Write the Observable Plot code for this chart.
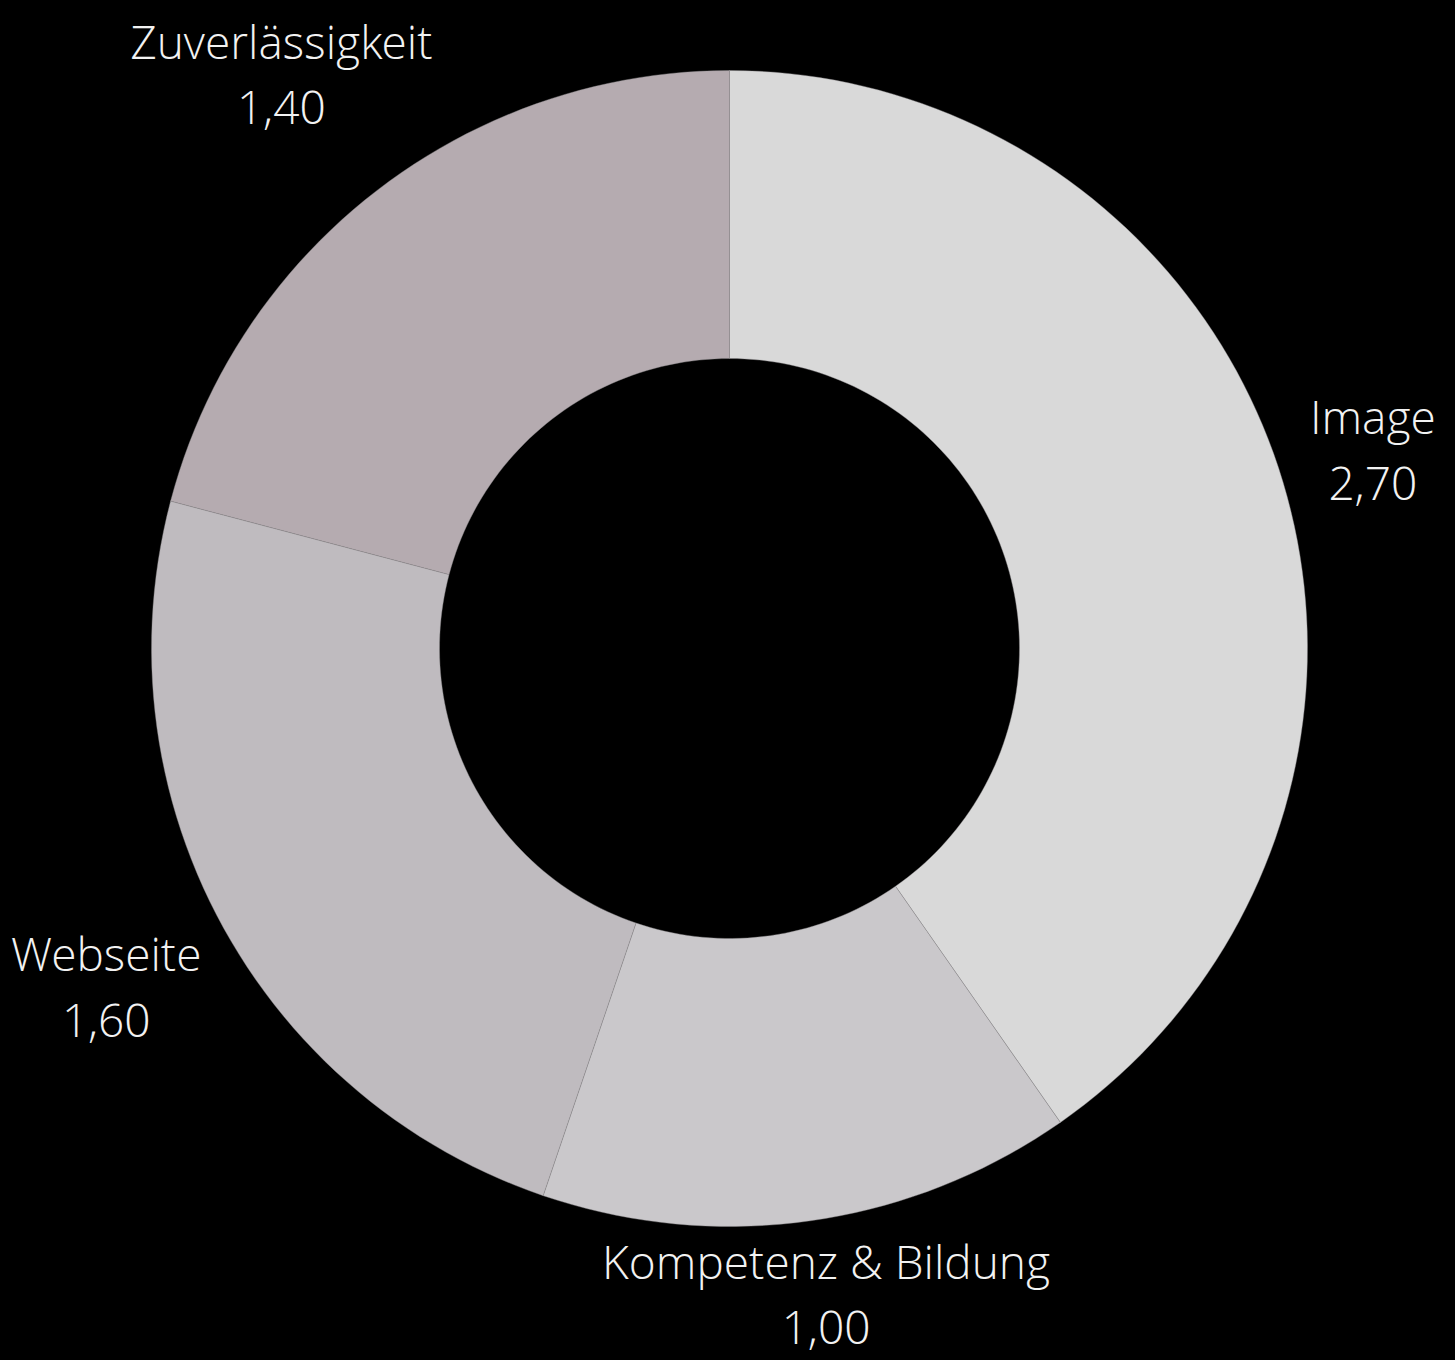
<!DOCTYPE html>
<html>
<head>
<meta charset="utf-8">
<script src="https://cdn.jsdelivr.net/npm/d3@7"></script>
<script src="https://cdn.jsdelivr.net/npm/@observablehq/plot@0.6"></script>
<style>
  html, body { margin: 0; padding: 0; background: #000; }
  #chart svg { display: block; background: #000; }
</style>
</head>
<body>
<div id="chart"></div>
<script>
// Data
const categories = ["Image", "Kompetenz & Bildung", "Webseite", "Zuverlässigkeit"];
const values = [2.70, 1.00, 1.60, 1.40];
const colors = ["#d9d9d9", "#cac8cb", "#bfbbbf", "#b5abb0"];

// Geometry constants
const W = 1455, H = 1360;
const cx = 729, cy = 648;         // centre in pixels
const rOuter = 578, rInner = 290;
const rLabel = 600;
const fontSize = 46, lineHeight = 1.43;
const fontFamily = "'Open Sans Light', 'Open Sans', sans-serif";

const pie = d3.pie().sort(null).value(d => d.value).startAngle(0).endAngle(2 * Math.PI);
const data = categories.map((name, i) => ({name, value: values[i]}));
const arcs = pie(data);

// Polygon points for each slice (in data units = pixels, y up)
const points = [];
const steps = 240;
for (const a of arcs) {
  const n = Math.max(8, Math.round(steps * (a.endAngle - a.startAngle) / (2 * Math.PI)));
  for (let k = 0; k <= n; k++) {
    const t = a.startAngle + (a.endAngle - a.startAngle) * k / n;
    points.push({name: a.data.name, x: rOuter * Math.sin(t), y: rOuter * Math.cos(t)});
  }
  for (let k = n; k >= 0; k--) {
    const t = a.startAngle + (a.endAngle - a.startAngle) * k / n;
    points.push({name: a.data.name, x: rInner * Math.sin(t), y: rInner * Math.cos(t)});
  }
  points.push({name: a.data.name, x: rOuter * Math.sin(a.startAngle), y: rOuter * Math.cos(a.startAngle)});
}

// Label positions (pushed outward by the text box, kept inside the frame)
const ctx = document.createElement("canvas").getContext("2d");
ctx.font = `300 ${fontSize}px ${fontFamily}`;
const fmt = v => d3.format(".2f")(v).replace(".", ",");
const halfBlock = 70;
const labels = arcs.map(a => {
  const mid = (a.startAngle + a.endAngle) / 2;
  const dx = Math.sin(mid), dy = Math.cos(mid);
  const valueText = fmt(a.data.value);
  const w = Math.max(ctx.measureText(a.data.name).width, ctx.measureText(valueText).width);
  const r = rLabel + Math.abs(dx) * w * 0.47 + Math.abs(dy) * 60;
  let y = r * dy;
  y = Math.max(y, -(H - cy) + halfBlock);
  y = Math.min(y, cy - halfBlock);
  return {text: a.data.name + "\n" + valueText, x: r * dx, y};
});

const chart = Plot.plot({
  width: W,
  height: H,
  margin: 0,
  style: {background: "#000", fontFamily: fontFamily},
  x: {domain: [-cx, W - cx], axis: null},
  y: {domain: [-(H - cy), cy], axis: null},
  color: {domain: categories, range: colors},
  marks: [
    Plot.line(points, {x: "x", y: "y", z: "name", fill: "name", stroke: "#8f8d90", strokeWidth: 0.4, curve: "linear"}),
    Plot.text(labels, {
      x: "x", y: "y", text: "text",
      fill: "#f2f2f2",
      fontSize: fontSize,
      fontWeight: 300,
      lineHeight: lineHeight,
      textAnchor: "middle",
      lineAnchor: "middle"
    })
  ]
});
document.getElementById("chart").appendChild(chart);
</script>
</body>
</html>
